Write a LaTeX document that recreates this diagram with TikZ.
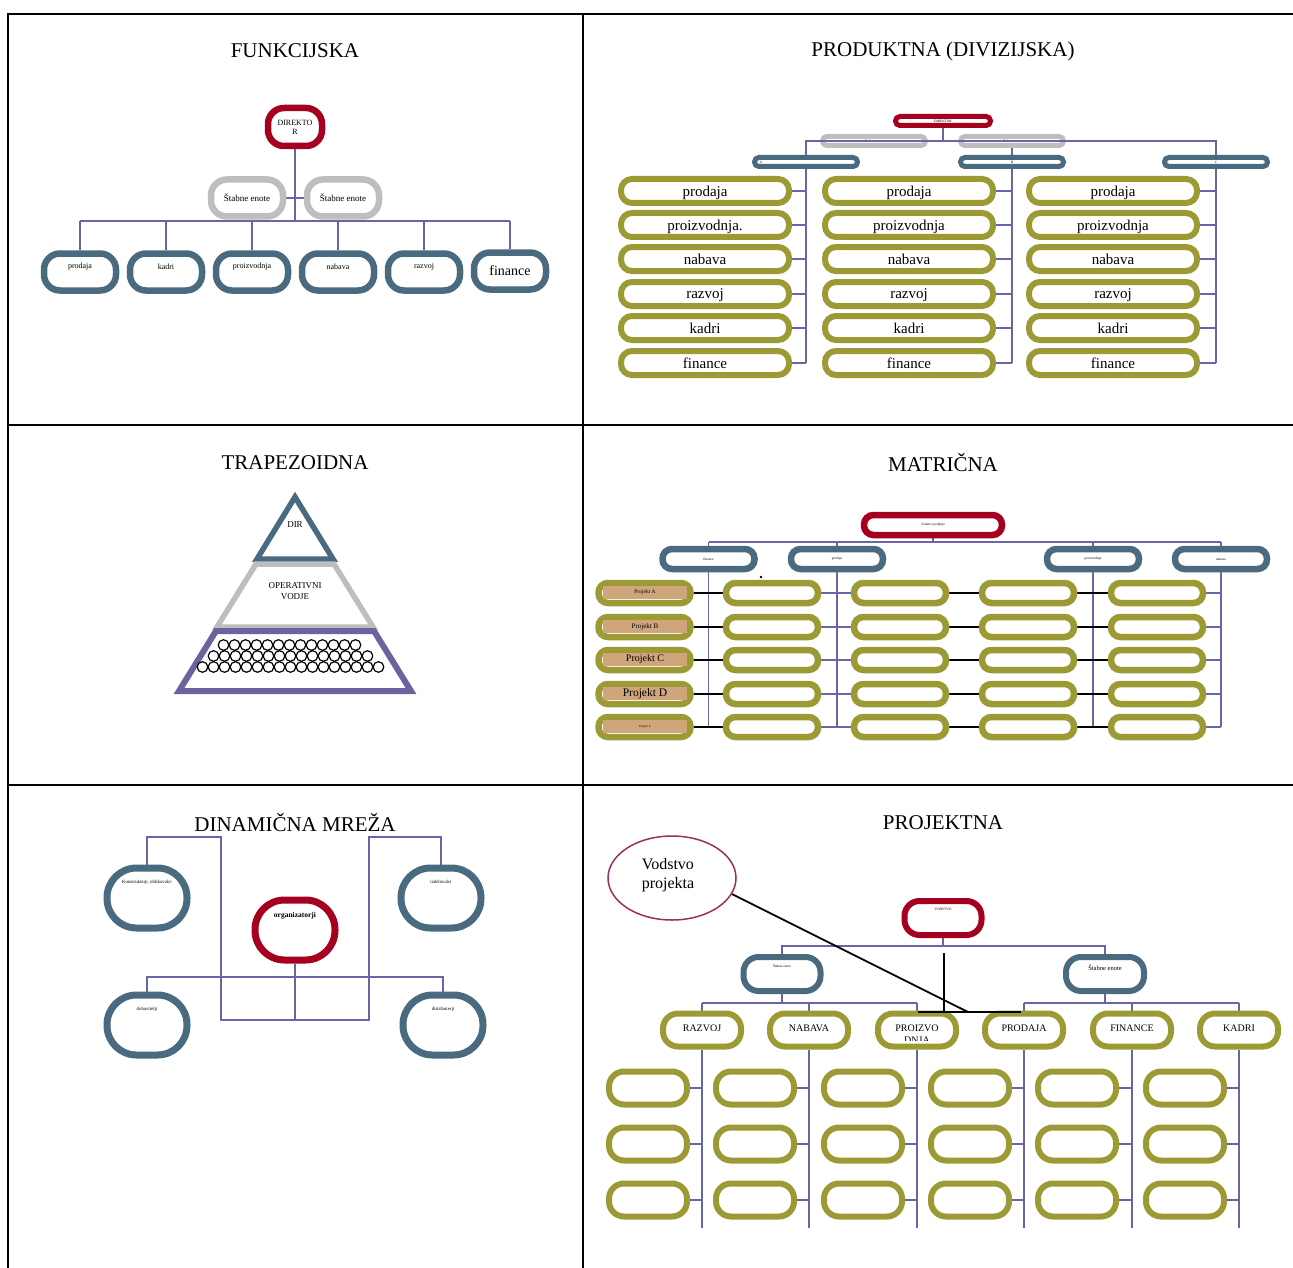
\documentclass[tikz,border=0pt]{standalone}
\usepackage{fontspec}
\setmainfont{Liberation Serif}
\usetikzlibrary{calc,shapes.geometric,backgrounds}

\definecolor{chartred}{RGB}{166,0,33}
\definecolor{chartblue}{RGB}{74,106,128}
\definecolor{chartgray}{RGB}{190,190,190}
\definecolor{chartolive}{RGB}{155,154,52}
\definecolor{linkpurple}{RGB}{104,102,166}
\definecolor{pyrpurple}{RGB}{106,99,158}
\definecolor{projtan}{RGB}{207,165,124}
\definecolor{ovalrim}{RGB}{160,45,95}

\newcommand\setsz[2]{\fontsize{#1}{#2}\selectfont}

\tikzset{
  frameline/.style={line width=2pt, draw=black},
  heading/.style={font=\setsz{21}{24}, inner sep=0pt},
  unit/.style={draw, rectangle, inner sep=0pt, align=center},
  redunit/.style={unit, draw=chartred},
  blueunit/.style={unit, draw=chartblue},
  grayunit/.style={unit, draw=chartgray},
  oliveunit/.style={unit, draw=chartolive},
  fsz/.style={minimum width=72pt, minimum height=37pt, line width=6.5pt, rounded corners=16pt},
  thinsz/.style={minimum width=103pt, minimum height=9pt, line width=5pt, rounded corners=4.4pt},
  colsz/.style={minimum width=168pt, minimum height=24pt, line width=6pt, rounded corners=11pt},
  matsz/.style={minimum width=92pt, minimum height=20pt, line width=6.5pt, rounded corners=9.5pt},
  netsz/.style={minimum width=80pt, minimum height=60pt, line width=7pt, rounded corners=29.5pt},
  prjsz/.style={minimum width=78pt, minimum height=33pt, line width=6pt, rounded corners=15pt},
  link/.style={draw=linkpurple, line width=1.8pt},
  blackline/.style={draw=black, line width=1.8pt},
  lbl/.style={inner sep=0pt, align=center},
  ball/.style={draw=black, fill=white, line width=1.2pt},
}

\begin{document}
\begin{tikzpicture}[x=1pt,y=-1pt]
\useasboundingbox (0,0) rectangle (1293,1268);

% ---------- table grid ----------
\draw[frameline] (8,1268) -- (8,14) -- (1293,14);
\draw[frameline] (583,14) -- (583,1268);
\draw[frameline] (8,425) -- (1293,425);
\draw[frameline] (8,785) -- (1293,785);

% ---------- headings ----------
\node[heading] (h1) at (295,51) {FUNKCIJSKA};
\node[heading] (h2) at (943,51) {PRODUKTNA (DIVIZIJSKA)};
\node[heading] (h3) at (295,463) {TRAPEZOIDNA};
\node[heading] (h4) at (943,463) {MATRIČNA};
\node[heading] (h5) at (295,823) {DINAMIČNA MREŽA};
\node[heading] (h6) at (943,823) {PROJEKTNA};

% ================= FUNKCIJSKA =================
\node[redunit, fsz, minimum width=54pt, minimum height=38pt, font=\setsz{8}{9}] (fdir) at (295,127) {DIREKTO\\R};
\node[grayunit, fsz, font=\setsz{9}{10}] (fst1) at (247,198) {Štabne enote};
\node[grayunit, fsz, font=\setsz{9}{10}] (fst2) at (343,198) {Štabne enote};
\foreach \i/\x/\lab in {1/80/prodaja,2/166/kadri,3/252/proizvodnja,4/338/nabava,5/424/razvoj}{
  \node[blueunit, fsz] (fu\i) at (\x,272) {};
  \node[lbl, font=\setsz{8}{9}] (fut\i) at (\x,267) {\lab};
}
\node[blueunit, fsz, font=\setsz{14}{16}] (fu6) at (510,271) {finance};

\begin{scope}[on background layer]
  \coordinate (fbus) at (0,221);
  \draw[link] (fdir.south) -- (fdir.south |- fbus);
  \draw[link] (fst1.east) -- (fst2.west);
  \draw[link] (fu1.north |- fbus) -- (fu6.north |- fbus);
  \foreach \i in {1,...,6} \draw[link] (fu\i.north) -- (fu\i.north |- fbus);
\end{scope}

% ================= PRODUKTNA =================
\node[redunit, thinsz, minimum width=95pt, font=\setsz{3.5}{4}] (pdir) at (943,121) {DIREKTOR};
\node[grayunit, thinsz, font=\setsz{3.5}{4}] (pst1) at (874,141) {Štabne enote};
\node[grayunit, thinsz, font=\setsz{3.5}{4}] (pst2) at (1012,141) {Štabne enote};
\node[blueunit, thinsz] (pA) at (806,162) {};
\node[lbl, font=\setsz{3.5}{4}] (pAt) at (761,162) {A};
\node[blueunit, thinsz, font=\setsz{3.5}{4}] (pB) at (1012,162) {B};
\node[blueunit, thinsz, font=\setsz{3.5}{4}] (pC) at (1216,162) {C};

\foreach \col/\x in {1/705,2/909,3/1113}{
  \foreach \row/\y/\lab in {1/191/prodaja,2/225/proizvodnja,3/259/nabava,4/294/razvoj,5/328/kadri,6/363/finance}{
    \node[oliveunit, colsz, font=\setsz{15}{16}, text depth=0pt] (po\col\row) at (\x,\y)
      {\lab\ifnum\col=1 \ifnum\row=2 .\fi\fi};
  }
}

\coordinate (pbus) at (0,141);
\draw[link, line width=1.5pt] (pA.north) -- (pA.north |- pbus) -- (pC.north |- pbus) -- (pC.north);
\begin{scope}[on background layer]
  \draw[link] (pdir.south) -- (pdir.south |- pbus);
  \draw[link] (pst2.south) -- (pB.north);
  \foreach \col/\h in {1/pA,2/pB,3/pC}{
    \draw[link] (\h.south) -- (\h.south |- po\col6);
    \foreach \row in {1,...,6} \draw[link] (po\col\row.east) -- (po\col\row.east -| \h.south);
  }
\end{scope}

% ================= TRAPEZOIDNA =================
\draw[draw=chartblue, line width=5.5pt] (295,497) -- (333,559) -- (257,559) -- cycle;
\draw[draw=chartgray, line width=5.5pt] (256,564) -- (334,564) -- (373,627) -- (217,627) -- cycle;
\draw[draw=pyrpurple, line width=6pt] (216,631) -- (374,631) -- (411,691) -- (179,691) -- cycle;
\node[lbl, font=\setsz{9}{10}] (tdir) at (295,525) {DIR};
\node[lbl, font=\setsz{9}{11}] (tops) at (295,591) {OPERATIVNI\\VODJE};
\foreach \i in {0,...,12} \draw[ball] ({223.5+11*\i},645) circle[radius=5.3pt];
\foreach \i in {0,...,14} \draw[ball] ({213.5+11*\i},656) circle[radius=5.3pt];
\foreach \i in {0,...,16} \draw[ball] ({202.5+11*\i},667) circle[radius=5.3pt];

% ================= MATRIČNA =================
\node[redunit, matsz, minimum width=138pt, font=\setsz{3.5}{4}] (mv) at (933,525) {Vodstvo podjetja};
\foreach \i/\x/\lab in {1/708.5/finance,2/837/prodaja,3/1093/proizvodnja,4/1221/nabava}{
  \node[blueunit, matsz, font=\setsz{3.5}{4}] (mb\i) at (\x,559) {\lab};
}
\foreach \col/\x in {0/644.5,1/772,2/900,3/1028,4/1157}{
  \foreach \row/\y in {1/593,2/627,3/660,4/694,5/727}{
    \node[oliveunit, matsz] (mo\col\row) at (\x,\y) {};
  }
}
\foreach \row/\y/\lab/\fs in {1/593/Projekt A/5.5,2/627/Projekt B/7,3/660/Projekt C/10,4/694/Projekt D/11.5,5/727/Projekt E/3}{
  \node[fill=projtan, minimum width=84pt, minimum height=13pt, inner sep=0pt, font=\setsz{\fs}{\fs}] (mp\row) at (645,\y-0.5) {\lab};
}
\fill[black] (761,577) circle[radius=1.4pt];

\begin{scope}[on background layer]
  \coordinate (mbus) at (0,542);
  \draw[link] (mv.south) -- (mv.south |- mbus);
  \draw[link] (mb1.north |- mbus) -- (mb4.north |- mbus);
  \foreach \i in {1,...,4}{
    \draw[link] (mb\i.north) -- (mb\i.north |- mbus);
    \draw[link] (mb\i.south) -- (mb\i.south |- mo05);
  }
  \foreach \row in {1,...,5}{
    \draw[blackline] (mo0\row.east) -- (mo1\row.west);
    \draw[link] (mo1\row.east) -- (mo2\row.west);
    \draw[blackline] (mo2\row.east) -- (mo3\row.west);
    \draw[blackline] (mo3\row.east) -- (mo4\row.west);
    \draw[link] (mo4\row.east) -- (mo4\row.east -| mb4.south);
  }
\end{scope}

% ================= DINAMIČNA MREŽA =================
\node[blueunit, netsz] (dk) at (147,898) {};
\node[blueunit, netsz] (di) at (441,898) {};
\node[redunit, netsz] (dorg) at (295,930) {};
\node[blueunit, netsz] (dd) at (147,1025) {};
\node[blueunit, netsz] (dt) at (443,1025) {};
\node[lbl, font=\setsz{4.8}{5}] (dkt) at (147,882) {Konstrukterji, oblikovalci};
\node[lbl, font=\setsz{4.8}{5}] (dit) at (441,882) {izdelovalci};
\node[lbl, font=\bfseries\setsz{7.5}{8}] (dorgt) at (295,916) {organizatorji};
\node[lbl, font=\setsz{4.8}{5}] (ddt) at (147,1009) {dobavitelji};
\node[lbl, font=\setsz{4.8}{5}] (dtt) at (443,1009) {distributerji};

\begin{scope}[on background layer]
  \coordinate (dtop) at (0,837);
  \coordinate (dlow) at (0,1020);
  \coordinate (dmid) at (0,977);
  \coordinate (dl) at (221,0);
  \coordinate (dr) at (369,0);
  \draw[link] (dk.north) -- (dk.north |- dtop) -- (dl |- dtop) -- (dl |- dlow)
              -- (dr |- dlow) -- (dr |- dtop) -- (di.north |- dtop) -- (di.north);
  \draw[link] (dorg.south) -- (dorg.south |- dlow);
  \draw[link] (dd.north) -- (dd.north |- dmid) -- (dt.north |- dmid) -- (dt.north);
\end{scope}

% ================= PROJEKTNA =================
\node[draw=ovalrim, ellipse, line width=1.5pt, minimum width=128pt, minimum height=84pt, inner sep=0pt] (jvp) at (672,878) {};
\node[lbl, align=left, font=\setsz{16}{19}] (jvpt) at (668,875) {Vodstvo\\projekta};
\node[redunit, prjsz, minimum width=77pt, minimum height=34pt] (jv) at (943,918) {};
\node[lbl, font=\setsz{3.5}{4}] (jvt) at (943,909) {VODSTVO};
\node[blueunit, prjsz, minimum width=77pt, minimum height=34pt] (jst1) at (782,974) {};
\node[lbl, font=\setsz{3.5}{4}] (jst1t) at (782,966) {Štabne enote};
\node[blueunit, prjsz, minimum width=78pt, minimum height=34pt] (jst2) at (1105,974) {};
\node[lbl, font=\setsz{6.5}{7}] (jst2t) at (1105,968) {Štabne enote};

\foreach \i/\x/\lab in {1/702/RAZVOJ,2/809/NABAVA,4/1024/PRODAJA,5/1132/FINANCE,6/1239/KADRI}{
  \node[oliveunit, prjsz] (jt\i) at (\x,1030) {};
  \node[lbl, font=\setsz{10}{12}] (jtt\i) at (\x,1028) {\lab};
}
\begin{scope}
  \clip (877,1005) rectangle (957,1040.5);
  \node[lbl, font=\setsz{10}{12}] (jtt3) at (917,1034) {PROIZVO\\DNJA};
\end{scope}
\node[oliveunit, prjsz] (jt3) at (917,1030) {};

\foreach \col/\x in {1/648,2/755,3/863,4/970,5/1077,6/1185}{
  \foreach \row/\y in {1/1088,2/1144,3/1200}{
    \node[oliveunit, prjsz] (jg\col\row) at (\x,\y) {};
  }
}

\begin{scope}[on background layer]
  \coordinate (jbus) at (0,946);
  \coordinate (jsub) at (0,1003);
  \coordinate (jend) at (0,1228);
  \draw[link] (jv.south) -- (jv.south |- jbus);
  \draw[link] (jst1.north) -- (jst1.north |- jbus) -- (jst2.north |- jbus) -- (jst2.north);
  \draw[link] (jst1.south) -- (jst1.south |- jsub);
  \draw[link] (jst2.south) -- (jst2.south |- jsub);
  \draw[link] (jt1.north |- jsub) -- (jt3.north |- jsub);
  \draw[link] (jt4.north |- jsub) -- (jt6.north |- jsub);
  \foreach \i in {1,...,6}{
    \draw[link] (jt\i.north) -- (jt\i.north |- jsub);
    \draw[link] (jt\i.south) -- (jt\i.south |- jend);
    \foreach \row in {1,2,3} \draw[link] (jg\i\row.east) -- (jg\i\row.east -| jt\i.south);
  }
\end{scope}

\coordinate (jk1) at (944,953);
\coordinate (jk2) at (944,1012);
\coordinate (jk3) at (918,1012);
\coordinate (jk4) at (1021,1012);
\coordinate (jk5) at (968,1012);
\draw[blackline] (jk1) -- (jk2);
\draw[blackline] (jk3) -- (jk4);
\draw[blackline] (jvp.-15) -- (jk5);

\end{tikzpicture}
\end{document}
